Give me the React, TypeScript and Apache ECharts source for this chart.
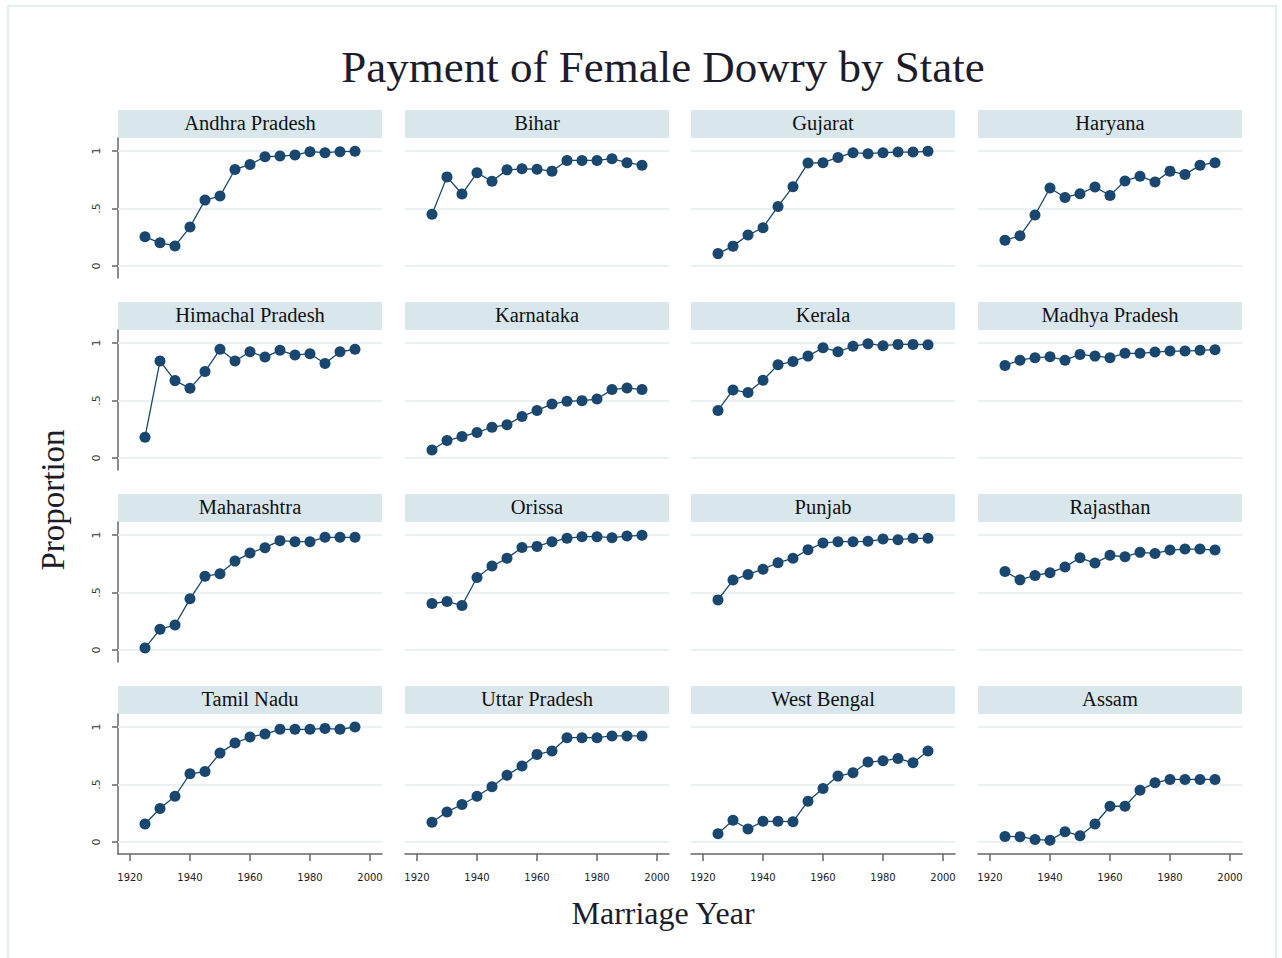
import React, { useEffect, useRef } from "react";
import * as echarts from "echarts";

const years = [1925, 1930, 1935, 1940, 1945, 1950, 1955, 1960, 1965, 1970, 1975, 1980, 1985, 1990, 1995];
const xTicks = [1920, 1940, 1960, 1980, 2000];
const yTicks = [0, 0.5, 1];
const yTickLabels = ["0", ".5", "1"];

const states = [
  "Andhra Pradesh", "Bihar", "Gujarat", "Haryana",
  "Himachal Pradesh", "Karnataka", "Kerala", "Madhya Pradesh",
  "Maharashtra", "Orissa", "Punjab", "Rajasthan",
  "Tamil Nadu", "Uttar Pradesh", "West Bengal", "Assam",
];

const andhraPradesh = [0.254, 0.202, 0.175, 0.339, 0.573, 0.608, 0.839, 0.883, 0.95, 0.956, 0.965, 0.994, 0.985, 0.994, 0.997];
const bihar = [0.45, 0.775, 0.626, 0.81, 0.737, 0.836, 0.845, 0.842, 0.825, 0.918, 0.918, 0.918, 0.933, 0.898, 0.877];
const gujarat = [0.108, 0.173, 0.269, 0.333, 0.518, 0.69, 0.895, 0.898, 0.944, 0.985, 0.977, 0.985, 0.991, 0.991, 0.997];
const haryana = [0.225, 0.263, 0.444, 0.678, 0.596, 0.629, 0.687, 0.614, 0.74, 0.781, 0.731, 0.825, 0.795, 0.877, 0.898];
const himachalPradesh = [0.181, 0.843, 0.673, 0.606, 0.752, 0.945, 0.843, 0.924, 0.878, 0.936, 0.895, 0.907, 0.822, 0.924, 0.945];
const karnataka = [0.07, 0.152, 0.187, 0.222, 0.268, 0.289, 0.362, 0.414, 0.469, 0.493, 0.499, 0.513, 0.595, 0.609, 0.595];
const kerala = [0.414, 0.592, 0.569, 0.676, 0.81, 0.84, 0.886, 0.959, 0.924, 0.971, 0.994, 0.977, 0.988, 0.988, 0.985];
const madhyaPradesh = [0.805, 0.851, 0.872, 0.88, 0.851, 0.901, 0.886, 0.872, 0.91, 0.91, 0.921, 0.93, 0.93, 0.936, 0.942];
const maharashtra = [0.017, 0.18, 0.218, 0.445, 0.642, 0.663, 0.773, 0.843, 0.89, 0.951, 0.942, 0.942, 0.98, 0.98, 0.98];
const orissa = [0.404, 0.422, 0.387, 0.631, 0.73, 0.797, 0.892, 0.901, 0.942, 0.971, 0.985, 0.985, 0.977, 0.991, 0.997];
const punjab = [0.436, 0.608, 0.657, 0.703, 0.759, 0.797, 0.872, 0.93, 0.942, 0.942, 0.945, 0.965, 0.959, 0.971, 0.971];
const rajasthan = [0.683, 0.61, 0.648, 0.672, 0.721, 0.802, 0.756, 0.823, 0.811, 0.849, 0.84, 0.869, 0.878, 0.878, 0.869];
const tamilNadu = [0.157, 0.291, 0.398, 0.593, 0.613, 0.773, 0.86, 0.913, 0.939, 0.98, 0.98, 0.98, 0.988, 0.98, 1.0];
const uttarPradesh = [0.172, 0.262, 0.326, 0.398, 0.48, 0.581, 0.66, 0.762, 0.791, 0.907, 0.907, 0.907, 0.922, 0.922, 0.922];
const westBengal = [0.073, 0.189, 0.113, 0.18, 0.18, 0.177, 0.355, 0.465, 0.573, 0.602, 0.695, 0.706, 0.727, 0.689, 0.791];
const assam = [0.049, 0.047, 0.023, 0.015, 0.09, 0.055, 0.157, 0.311, 0.311, 0.451, 0.515, 0.544, 0.544, 0.544, 0.544];

const stateValues = [
  andhraPradesh, bihar, gujarat, haryana,
  himachalPradesh, karnataka, kerala, madhyaPradesh,
  maharashtra, orissa, punjab, rajasthan,
  tamilNadu, uttarPradesh, westBengal, assam,
];

const NAVY = "#1a476f";
const SERIF = '"Liberation Serif", "DejaVu Serif", serif';
const SANS = '"DejaVu Sans", sans-serif';

export default function App() {
  const ref = useRef<HTMLDivElement>(null);

  useEffect(() => {
    if (!ref.current) return;
    const chart = echarts.init(ref.current, null, { renderer: "svg" });

    const colLefts = [118, 405, 691, 978];
    const rowTops = [110, 302, 494, 686];
    const panelW = 264;
    const headerH = 28;
    const plotH = 140;

    const grids: any[] = [];
    const xAxes: any[] = [];
    const yAxes: any[] = [];
    const series: any[] = [];
    const graphics: any[] = [];

    const centerText = (text: string, x: number, y: number, size: number, extra: any = {}) => ({
      type: "text",
      x,
      y,
      ...extra,
      style: {
        text,
        fontSize: size,
        fontFamily: SERIF,
        fill: "#1c1c2a",
        align: "center",
        verticalAlign: "middle",
        textAlign: "center",
        textVerticalAlign: "middle",
      },
    });

    graphics.push({
      type: "rect",
      shape: { x: 8, y: 6, width: 1268, height: 970 },
      style: { fill: "none", stroke: "#e3eeef", lineWidth: 2 },
      silent: true,
    });

    graphics.push(centerText("Payment of Female Dowry by State", 663, 67, 45));
    graphics.push(centerText("Marriage Year", 663, 913, 32));
    graphics.push(centerText("Proportion", 53, 500, 33, { rotation: Math.PI / 2 }));

    states.forEach((name, i) => {
      const r = Math.floor(i / 4);
      const c = i % 4;
      const left = colLefts[c];
      const top = rowTops[r];

      graphics.push({
        type: "rect",
        shape: { x: left, y: top, width: panelW, height: headerH },
        style: { fill: "#d9e6ec" },
        silent: true,
      });
      graphics.push({
        type: "text",
        x: left + panelW / 2,
        y: top + headerH / 2 - 1,
        style: {
          text: name,
          fontSize: 20.5,
          fontFamily: SERIF,
          fill: "#111111",
          align: "center",
          verticalAlign: "middle",
          textAlign: "center",
          textVerticalAlign: "middle",
        },
      });

      grids.push({ left, top: top + headerH, width: panelW, height: plotH, containLabel: false });

      const showX = r === 3;
      const showY = c === 0;

      xAxes.push({
        type: "value",
        gridIndex: i,
        min: 1916,
        max: 2004,
        show: showX,
        axisLine: { show: showX, onZero: false, lineStyle: { color: "#666666", width: 1.5 } },
        axisTick: { show: showX, customValues: xTicks, length: 7, lineStyle: { color: "#666666", width: 1.5 } },
        axisLabel: {
          show: showX,
          customValues: xTicks,
          fontSize: 10,
          fontFamily: SANS,
          color: "#222222",
          margin: 18,
          formatter: (v: number) => String(Math.round(v)),
        },
        splitLine: { show: false },
      });

      yAxes.push({
        type: "value",
        gridIndex: i,
        min: -0.104,
        max: 1.113,
        show: showY,
        axisLine: { show: showY, lineStyle: { color: "#666666", width: 1.5 } },
        axisTick: { show: showY, customValues: yTicks, length: 6, lineStyle: { color: "#666666", width: 1.5 } },
        axisLabel: {
          show: showY,
          customValues: yTicks,
          rotate: 90,
          fontSize: 11,
          fontFamily: SANS,
          color: "#333333",
          margin: 16,
          formatter: (v: number) => {
            const idx = yTicks.findIndex((t) => Math.abs(t - v) < 1e-6);
            return idx >= 0 ? yTickLabels[idx] : "";
          },
        },
        splitLine: { show: false },
      });

      series.push({
        type: "line",
        xAxisIndex: i,
        yAxisIndex: i,
        data: years.map((y, k) => [y, stateValues[i][k]]),
        symbol: "circle",
        symbolSize: 11,
        showSymbol: true,
        itemStyle: { color: NAVY },
        lineStyle: { color: NAVY, width: 1.3 },
        markLine: {
          silent: true,
          symbol: "none",
          label: { show: false },
          lineStyle: { color: "#eaf1f3", width: 2, type: "solid" },
          data: yTicks.map((t) => ({ yAxis: t })),
          z: 1,
        },
        z: 3,
      });
    });

    chart.setOption({
      animation: false,
      backgroundColor: "#ffffff",
      grid: grids,
      xAxis: xAxes,
      yAxis: yAxes,
      series,
      graphic: graphics,
    });

    return () => chart.dispose();
  }, []);

  return (
    <div
      ref={ref}
      style={{ position: "fixed", left: 0, top: 0, width: 1282, height: 958 }}
    />
  );
}
